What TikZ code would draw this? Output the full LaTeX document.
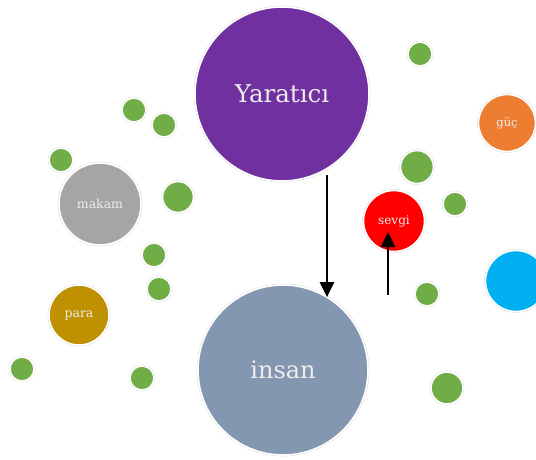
\documentclass[tikz,border=0pt]{standalone}
\usepackage{fontspec}
\setmainfont{DejaVu Serif}
\usetikzlibrary{arrows.meta}
\definecolor{cpurple}{HTML}{7030A0}
\definecolor{cinsan}{HTML}{8497B0}
\definecolor{cred}{HTML}{FF0000}
\definecolor{corange}{HTML}{ED7D31}
\definecolor{ccyan}{HTML}{00B0F0}
\definecolor{cgreen}{HTML}{70AD47}
\definecolor{cgray}{HTML}{A5A5A5}
\definecolor{cgold}{HTML}{BF9000}
\tikzset{
  bubble/.style={circle, inner sep=0pt, outer sep=0pt, draw=white, line width=1.6pt,
    preaction={draw=gray!25, line width=2.6pt}, text=white!93!black},
  gdot/.style={bubble, fill=cgreen, minimum size=#1},
  arr/.style={line width=2.4pt, -{Triangle[length=15pt,width=14pt]}}
}
\begin{document}
\begin{tikzpicture}[x=1pt,y=-1pt]
\useasboundingbox (0,0) rectangle (536,459);
% main bubbles
\node[bubble, fill=cpurple, minimum size=174pt, font=\fontsize{24.5}{27}\selectfont] (yar) at (282,94) {Yaratıcı};
\node[bubble, fill=cinsan, minimum size=170pt, font=\fontsize{24}{26}\selectfont] (insan) at (283,370) {insan};
\node[bubble, fill=cred, minimum size=61pt, font=\fontsize{12}{14}\selectfont] (sevgi) at (394,221) {sevgi};
\node[bubble, fill=corange, minimum size=57pt, font=\fontsize{11.5}{13}\selectfont] (guc) at (507,123) {güç};
\node[bubble, fill=ccyan, minimum size=61pt] (cyan) at (516,281) {};
\node[bubble, fill=cgray, minimum size=82pt, font=\fontsize{12.5}{14}\selectfont] (makam) at (100,204) {makam};
\node[bubble, fill=cgold, minimum size=60pt, font=\fontsize{12.5}{14}\selectfont] (para) at (79,315) {para};
% green dots
\node[gdot=24pt] (g1) at (420,54) {};
\node[gdot=24pt] (g2) at (134,110) {};
\node[gdot=24pt] (g3) at (164,125) {};
\node[gdot=24pt] (g4) at (61,160) {};
\node[gdot=31pt] (g5) at (178,197) {};
\node[gdot=33pt] (g6) at (417,167) {};
\node[gdot=24pt] (g7) at (455,204) {};
\node[gdot=24pt] (g8) at (154,255) {};
\node[gdot=24pt] (g9) at (159,289) {};
\node[gdot=24pt] (g10) at (427,294) {};
\node[gdot=24pt] (g11) at (22,369) {};
\node[gdot=24pt] (g12) at (142,378) {};
\node[gdot=32pt] (g13) at (447,388) {};
% arrows
\coordinate (d1) at (327,175);
\coordinate (u1) at (388,295);
\coordinate (u2) at (388,232);
\draw[arr] (d1) -- (insan.59 -| d1);
\draw[arr] (u1) -- (u2);
\end{tikzpicture}
\end{document}
